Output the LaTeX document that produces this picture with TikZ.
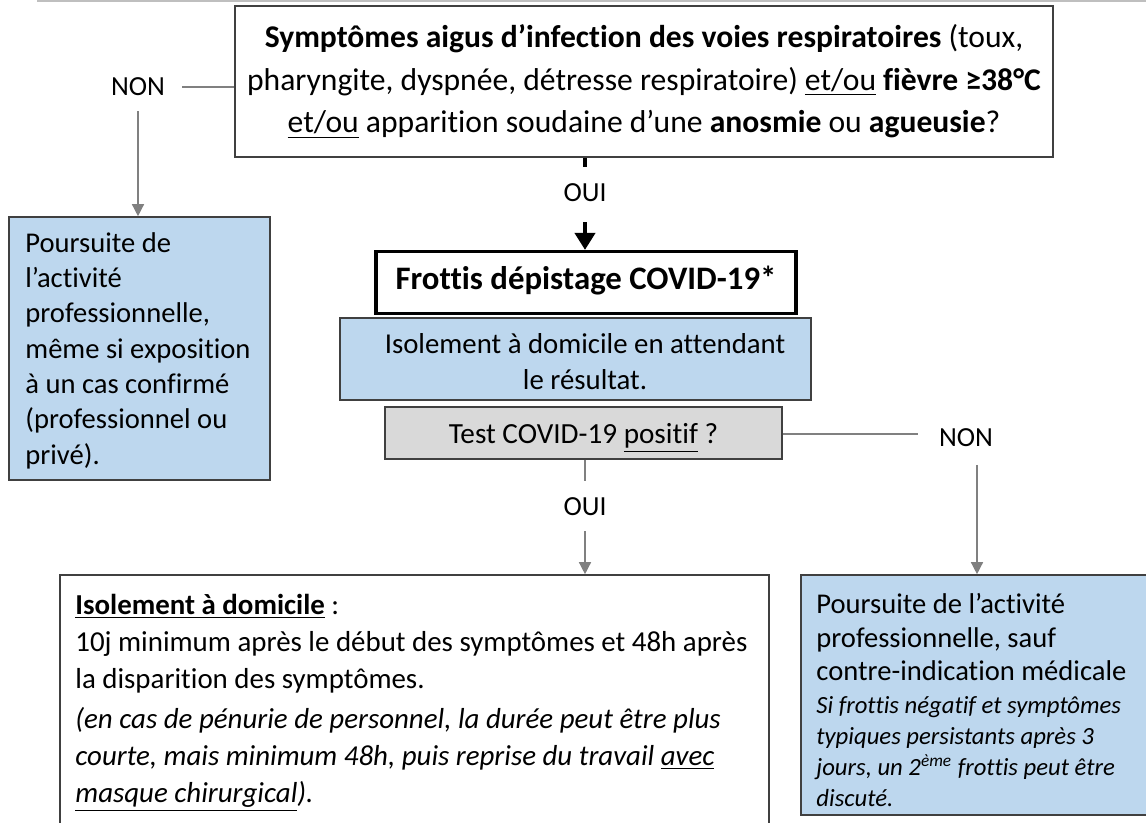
\documentclass[tikz,border=0pt]{standalone}
\usepackage{fontspec}
\setmainfont{Carlito}[Ligatures=NoCommon]
\usetikzlibrary{arrows.meta}
\definecolor{boxblue}{RGB}{189,215,238}
\definecolor{boxgray}{RGB}{217,217,217}
\definecolor{edgegray}{RGB}{64,64,64}
\definecolor{conngray}{RGB}{128,128,128}
\begin{document}
\begin{tikzpicture}[x=0.5pt,y=-0.5pt,
  box/.style={draw=edgegray, line width=0.8pt, inner sep=0pt, anchor=center},
  txt/.style={inner sep=0pt},
  conn/.style={draw=conngray, line width=0.7pt},
  arr/.style={conn, -{Triangle[width=6pt,length=6pt]}},
  thickarr/.style={draw=black, line width=2pt},
  lbl/.style={font=\fontsize{13.8}{16}\selectfont, inner sep=0pt},
]
\useasboundingbox (0,0) rectangle (1146,823);
\draw[line width=0.8pt, color=black!25] (37,0.8) -- (1146,0.8);

% top question
\node[box, minimum width=409pt, minimum height=75.5pt, align=center,
      font=\fontsize{15.8}{21.25}\selectfont] (q1) at (644,81.5)
  {\textbf{Symptômes aigus d’infection des voies respiratoires} (toux,\\
   pharyngite, dyspnée, détresse respiratoire) \underline{et/ou} \textbf{fièvre ≥38°C}\\
   \underline{et/ou} apparition soudaine d’une \textbf{anosmie} ou \textbf{agueusie}?};

% left NON branch
\node[lbl] (non1) at (138,87) {NON};
\draw[conn] ([xshift=8.5pt]non1.east) -- (q1.west |- non1.east);
\node[box, fill=boxblue, minimum width=130.5pt, minimum height=131.5pt] (lb) at (139.5,348.5) {};
\node[txt, anchor=west, text width=125pt, align=flush left, font=\fontsize{14.3}{17.65}\selectfont] (lbt) at (25,350.5)
  {Poursuite de\\ l’activité\\ professionnelle,\\ même si exposition\\ à un cas confirmé\\ (professionnel ou\\ privé).};
\draw[arr] ([yshift=-7.5pt]non1.south) -- (non1.south |- lb.north);

% OUI to frottis
\node[lbl] (oui1) at (585,193) {OUI};
\node[box, draw=black, line width=1.6pt, minimum width=210pt, minimum height=31pt,
      text height=11pt, text depth=3.5pt,
      font=\bfseries\fontsize{16.4}{18}\selectfont] (fr) at (586,282.5) {Frottis dépistage COVID-19*};
\draw[thickarr] (oui1 |- q1.south) -- ([yshift=8.5pt]oui1.north);
\draw[thickarr, -{Triangle[width=10pt,length=8.5pt]}] ([yshift=-10pt]oui1.south) -- (oui1 |- fr.north);

\node[box, fill=boxblue, minimum width=235.5pt, minimum height=41pt] (iso) at (575.5,359) {};
\node[txt, align=center, font=\fontsize{14.4}{18}\selectfont] (isot) at (585,362)
  {Isolement à domicile en attendant\\ le résultat.};

\node[box, fill=boxgray, minimum width=198.5pt, minimum height=26pt,
      text height=12pt, text depth=1pt,
      font=\fontsize{14.6}{16}\selectfont] (test) at (583.5,433)
  {Test COVID-19 \underline{positif} ?};

% right NON branch
\node[lbl] (non2) at (966,438) {NON};
\coordinate (c1) at (918,434);
\draw[conn] (test.east |- c1) -- (c1);
\coordinate (c2) at (977,465);
\node[box, fill=boxblue, minimum width=174.5pt, minimum height=120pt] (br) at (975.5,695) {};
\node[txt, anchor=north west, text width=170pt, align=flush left] (brt) at (816,593)
  {\fontsize{14.3}{16.75}\selectfont Poursuite de l’activité\\ professionnelle, sauf\\ contre-indication médicale\par\vspace{0.6pt}
   \itshape\fontsize{12.35}{15.65}\selectfont Si frottis négatif et symptômes\\ typiques persistants après 3\\ jours, un 2\textsuperscript{ème} frottis peut être\\ discuté.\par};
\draw[arr] (c2) -- (c2 |- br.north);

% OUI to isolement
\node[lbl] (oui2) at (585,507) {OUI};
\node[box, fill=white, minimum width=354.5pt, minimum height=135pt] (bl) at (414.5,710) {};
\node[txt, anchor=north west, text width=345pt, align=flush left,
      font=\fontsize{14.45}{18.5}\selectfont] (blt) at (75,594)
  {\underline{\textbf{Isolement à domicile}} :\\
   10j minimum après le début des symptômes et 48h après\\
   la disparition des symptômes.\\[1.5pt]
   \textit{(en cas de pénurie de personnel, la durée peut être plus}\\
   \textit{courte, mais minimum 48h, puis reprise du travail \underline{avec}}\\
   \textit{\underline{masque chirurgical}).}};
\draw[conn] (oui2 |- test.south) -- ([yshift=8.5pt]oui2.north);
\draw[arr] ([yshift=-7.5pt]oui2.south) -- (oui2 |- bl.north);
\end{tikzpicture}
\end{document}
